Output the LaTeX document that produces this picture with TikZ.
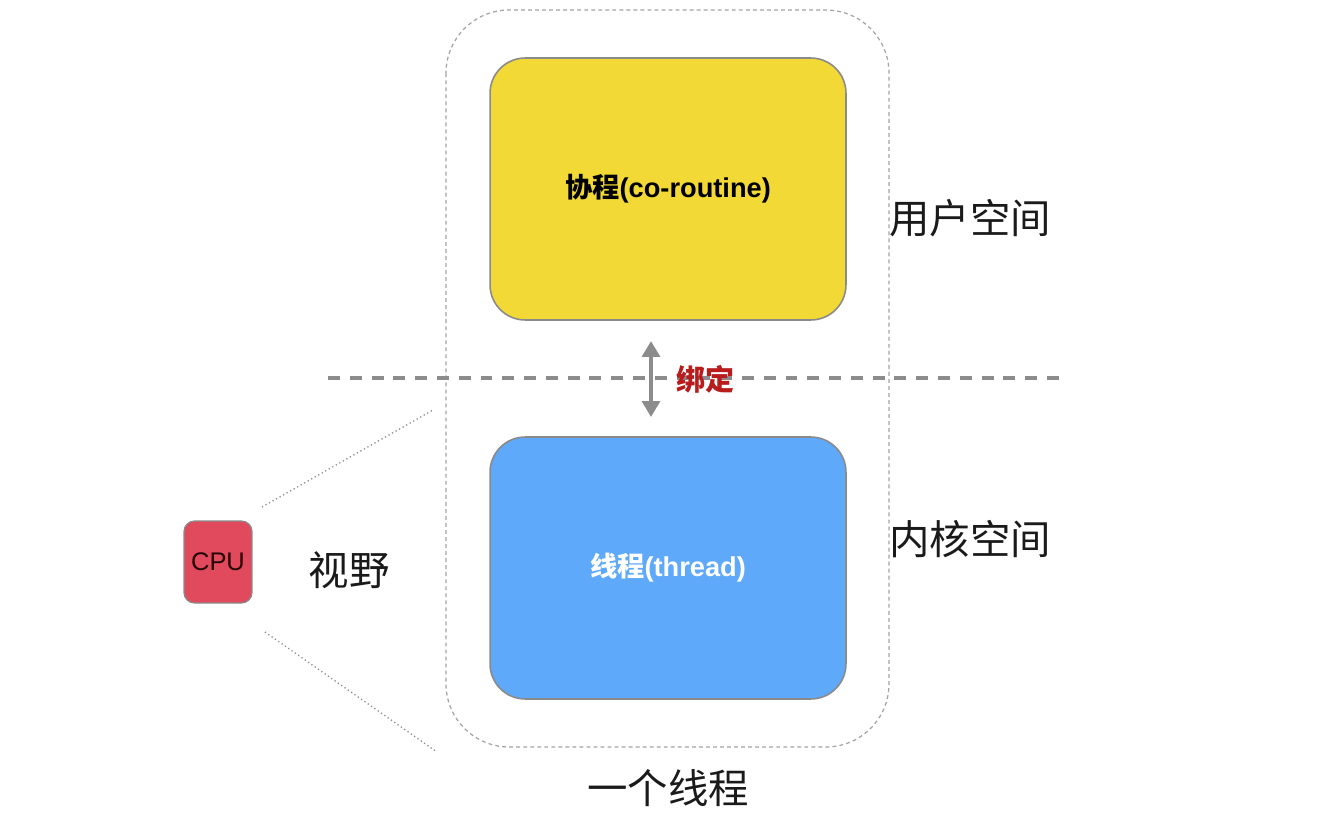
\documentclass[tikz,border=0pt]{standalone}
\usepackage{fontspec}
\setmainfont{Noto Sans CJK SC}
\newfontfamily\cjk{Noto Sans CJK SC}
\newfontfamily\latinsans{Liberation Sans}
\usetikzlibrary{arrows.meta}
\definecolor{coyellow}{HTML}{F3D935}
\definecolor{thblue}{HTML}{5EA9F9}
\definecolor{cpured}{HTML}{E04A5C}
\definecolor{bindred}{HTML}{B81C1C}
\definecolor{linegray}{HTML}{8C8C8C}
\definecolor{bordergray}{HTML}{8A8A8A}
\definecolor{txt}{HTML}{1A1A1A}
\tikzset{
  box/.style={rounded corners=20pt, draw=bordergray, line width=0.9pt,
    minimum width=7.12cm, minimum height=5.24cm, inner sep=0pt, font=\fontsize{15.5}{18}\selectfont},
  bigtext/.style={font=\cjk\fontsize{23}{26}\selectfont, text=txt, inner sep=0pt},
  region/.style={draw=linegray!80, dash pattern=on 2.2pt off 1.8pt, line width=0.7pt, rounded corners=36pt},
  sight/.style={draw=linegray, dash pattern=on 0.7pt off 1.6pt, line width=0.75pt},
  divider/.style={draw=linegray, line width=2.3pt, dash pattern=on 6.8pt off 5.6pt},
  bindarrow/.style={draw=linegray, line width=2.4pt, {Triangle[width=10pt,length=9pt]}-{Triangle[width=10pt,length=9pt]}}
}
\begin{document}
\begin{tikzpicture}[x=0.02cm,y=-0.02cm]
\useasboundingbox (0,0) rectangle (1339,815);
% outer region (one thread)
\draw[region] (446,10) rectangle (889,747);
% divider
\coordinate (dl) at (328,378);
\coordinate (dr) at (1062,378);
\draw[divider] (dl) -- (dr);
% boxes
\node[box, fill=coyellow, text=black] (co) at (668,189) {{\cjk\bfseries 协程}{\latinsans\bfseries (co-routine)}};
\node[box, fill=thblue, text=white] (th) at (668,568) {{\cjk\bfseries 线程}{\latinsans\bfseries (thread)}};
% bind arrow
\coordinate (at) at (651,341);
\coordinate (ab) at (651,417);
\draw[bindarrow] (at) -- (ab);
\node[font=\cjk\bfseries\fontsize{16.5}{18}\selectfont, text=bindred, inner sep=0pt] (bind) at (705,379) {绑定};
% side labels
\node[bigtext] (user) at (970,218) {用户空间};
\node[bigtext] (kernel) at (970,539) {内核空间};
\node[bigtext] (one) at (668,788) {一个线程};
\node[bigtext] (view) at (349,570) {视野};
% CPU
\node[rounded corners=6pt, draw=bordergray, line width=0.7pt, fill=cpured,
  minimum width=1.36cm, minimum height=1.64cm, inner sep=0pt,
  font=\latinsans\fontsize{14.5}{16}\selectfont, text=black!85!red] (cpu) at (218,562) {CPU};
% sight lines
\coordinate (s1a) at (262,507);
\coordinate (s1b) at (433,410);
\coordinate (s2a) at (265,632);
\coordinate (s2b) at (437,752);
\draw[sight] (s1a) -- (s1b);
\draw[sight] (s2a) -- (s2b);
\end{tikzpicture}
\end{document}
